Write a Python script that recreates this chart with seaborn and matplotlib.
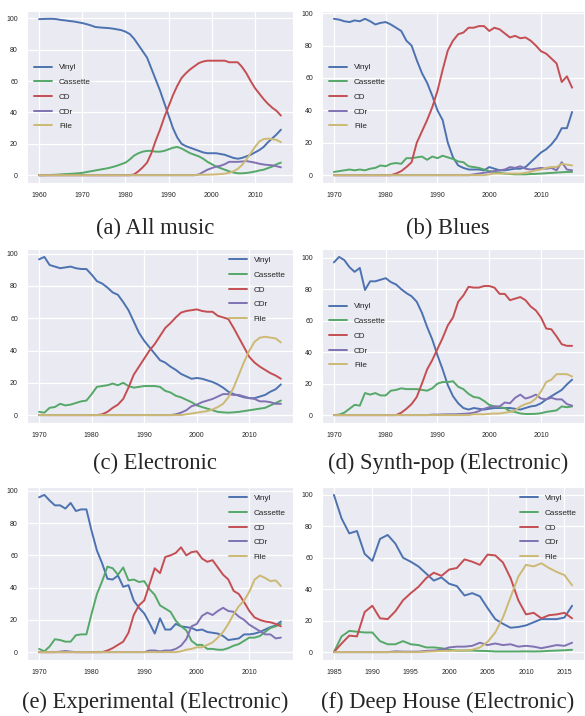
import matplotlib
matplotlib.use('Agg')
import matplotlib.pyplot as plt
import seaborn as sns
import numpy as np

sns.set_style('darkgrid')
plt.rcParams['font.family'] = ['Liberation Sans', 'DejaVu Sans']

formats = ['Vinyl', 'Cassette', 'CD', 'CDr', 'File']
colors = ['#4C72B0', '#55A868', '#C44E52', '#8172B3', '#CCB974']

# (a) All music, 1960-2016
years_a = list(range(1960, 2017))
vinyl_a = [99.5, 99.6, 99.7, 99.7, 99.5, 99, 98.7, 98.3, 98, 97.5, 97, 96.3, 95.5, 94.5, 94.2, 94, 93.8, 93.5, 93, 92.5,
           91.5, 90, 87, 83, 79, 75, 68, 61, 54, 46, 38, 30, 24, 20, 18.5, 17.5, 16.5, 15.5, 14.5, 14,
           14, 14, 13.5, 13, 12, 11, 10.5, 11, 12, 13, 14.5, 16, 18, 21, 23.5, 26, 29]
cassette_a = [0, 0, 0.1, 0.2, 0.3, 0.5, 0.7, 0.8, 1, 1.2, 1.5, 2, 2.5, 3, 3.5, 4, 4.5, 5.2, 6, 7,
              8, 10, 12.5, 14, 15, 15.5, 15.5, 15, 15, 15.5, 16.5, 17.5, 18, 17, 15.5, 14, 13, 12, 10.5, 8.5,
              7, 5.5, 4.5, 3.5, 2.5, 1.7, 1.2, 1.2, 1.4, 1.8, 2.3, 3, 3.5, 4.5, 5.5, 7, 8]
cd_a = [0] * 22 + [0.5, 2.5, 5, 8, 14, 22, 29, 37, 44, 51, 57, 62, 65, 67.5, 69.5, 71.5, 72.5, 73,
                   73, 73, 73, 73, 72, 72, 72, 69, 65, 60, 55.5, 52, 48.5, 45.5, 43, 41, 38]
cdr_a = [0] * 37 + [0.5, 2, 3.5, 4.5, 5.5, 6, 7, 8.5, 8.5, 8.5, 8.7, 9, 8.5, 8, 7.3, 6.8, 6.5, 6.3, 5.7, 5]
file_a = [0] * 37 + [0.3, 0.3, 0.3, 0.4, 0.5, 0.7, 1, 1.5, 2.5, 4, 6.5, 10, 14, 18, 21.5, 23, 23.3, 23, 22.5, 21]

# (b) Blues, 1970-2016
years_b = list(range(1970, 2017))
vinyl_b = [96.5, 96, 95, 94.5, 95.5, 95, 96.5, 95, 93, 94, 94.5, 93, 91, 89, 83, 80, 71, 63, 57, 49,
           40, 34, 20, 11, 6, 4.5, 3.5, 3.5, 3.5, 3, 5, 4, 3, 3, 3.5, 4, 4, 5, 8, 11,
           14, 16, 19, 23, 29, 29, 39]
cassette_b = [2, 2.5, 3, 3.5, 3, 3.5, 3, 4, 4.5, 6, 5.5, 7, 7.5, 7, 10.5, 10.5, 11, 11.5, 9.5, 11.5,
              10.5, 12, 11, 10, 8.5, 8, 5.5, 5, 4.5, 3.5, 2.5, 2, 1.5, 1, 0.7, 0.5, 0.5, 0.5, 0.7, 0.8,
              1, 1.2, 1.4, 1.6, 1.8, 2, 2]
cd_b = [0] * 12 + [1, 2.5, 5, 8, 20, 27, 34, 42, 52, 65, 77, 83, 87, 88, 91, 91, 92, 92,
                   89, 91, 90, 87.5, 85, 86, 84.5, 85, 83, 80, 76.5, 75, 72, 69, 57.5, 61, 54]
cdr_b = [0] * 27 + [0.5, 1, 1.5, 2, 2.5, 3, 3.5, 5, 4.5, 5.5, 4, 3.5, 4, 4.5, 4, 4.5, 3, 8, 3.5, 3]
file_b = [0] * 30 + [0.5, 1, 1, 1, 1, 1, 1, 1.5, 2, 3, 3.5, 4.5, 5, 5, 7, 6.5, 6]

# (c) Electronic, 1970-2016
years_c = list(range(1970, 2017))
vinyl_c = [96.5, 98, 93, 92, 91, 91.5, 92, 91, 90.5, 90.5, 87, 83, 81.5, 79, 76, 74.5, 70, 65, 58, 51,
           46, 42, 38, 34, 32.5, 30, 28, 25.5, 24, 22.5, 23, 22.5, 21.5, 20.5, 19, 17, 14.5, 13, 12, 11,
           10.5, 10.5, 11.5, 12.5, 14.5, 16, 19]
cassette_c = [2, 1.5, 4.5, 5, 7, 6, 6.5, 7.5, 8.5, 9, 13, 17.5, 18, 18.5, 19.5, 18.5, 20, 18, 17, 17.5,
              18, 18, 18, 17.5, 15, 14, 12, 11, 9.5, 8, 6, 5, 4, 3, 2, 1.7, 1.5, 1.7, 2, 2.5,
              3, 3.5, 4, 4.5, 6, 7.5, 9]
cd_c = [0] * 12 + [0.5, 2, 4.5, 6.5, 10, 17, 25, 30, 35, 40, 44, 49, 54, 57, 60.5, 63.5, 64.5, 65,
                   65.5, 64.5, 64, 64, 61.5, 60.5, 59.5, 54, 48, 42, 36, 32.5, 30, 28, 26, 24.5, 22.5]
cdr_c = [0] * 26 + [0.5, 1.5, 3, 5.5, 6.5, 8, 9, 10, 11.5, 13, 13, 12.5, 12.5, 11.5, 10.5, 10, 8.5, 8.5, 8, 7, 7]
file_c = [0] * 28 + [0.5, 1, 1.5, 2, 2.5, 3.5, 5, 7, 11, 17, 25, 33, 40, 45.5, 48, 48.5, 48, 47.5, 45]

# (d) Synth-pop (Electronic), 1970-2016
years_d = list(range(1970, 2017))
vinyl_d = [97, 100.5, 98.5, 94, 91, 93.5, 79.5, 85, 85, 86, 87, 84.5, 83, 80, 77.5, 75.5, 72, 65, 56, 48,
           38, 29, 19, 12, 7.5, 4.5, 3.5, 4.5, 4, 3.5, 4, 4.5, 4.5, 4.5, 4.5, 4, 3.5, 4.5, 5.5, 6,
           7.5, 10, 12, 14, 16, 19.5, 22.5]
cassette_d = [0, 0.3, 1.5, 4, 6.5, 6, 14, 13, 14, 12.5, 12.5, 15.5, 16, 17, 16.5, 16.5, 16.5, 16, 15.5, 17,
              20, 21, 21, 21.5, 18, 16.5, 13.5, 11.5, 11, 9, 6.5, 5.5, 5, 4.5, 2.5, 2, 1, 0.7, 0.7, 0.8,
              1.2, 2, 2.5, 3, 5.5, 5, 5.5]
cd_d = [0] * 13 + [1.5, 4, 7, 11.5, 20, 29, 35, 42, 49, 57, 62, 72, 76, 81.5, 81, 81, 82,
                   82, 81, 77, 77, 73, 74, 75, 73, 69, 66.5, 62, 55, 54.5, 50, 45, 44, 44]
cdr_d = [0] * 19 + [0.3, 0.3, 0.4, 0.5, 0.5, 0.6, 0.8, 1, 1.5, 2.5, 4, 5, 5.5, 5.5, 8, 7.5, 11, 13, 10.5,
                    11.5, 13, 10.5, 10, 11, 10, 10, 7, 6]
file_d = [0] * 27 + [0.5, 0.5, 0.5, 0.8, 1, 1, 1.5, 2, 3, 5.5, 7, 8, 10.5, 15, 21, 22.5, 26, 26, 26, 24.5]

# (e) Experimental (Electronic), 1970-2016
years_e = list(range(1970, 2017))
vinyl_e = [96, 97.5, 94, 91, 91, 89, 92.5, 87.5, 88.5, 88.5, 75, 63, 55, 45.5, 45, 47.5, 40.5, 41.5, 32, 27.5,
           24, 18, 11.5, 21, 14, 14, 17.5, 16, 15.5, 15, 13.5, 14, 12.5, 12, 11.5, 10, 7.5, 8, 8.5, 11,
           11, 11.5, 12.5, 14, 15.5, 16.5, 19]
cassette_e = [2, 0.5, 3.5, 8, 7.5, 6.5, 6.5, 10.5, 11, 11, 24, 36, 44, 53, 52, 48, 52.5, 44.5, 45, 43.5,
              44, 39, 35.5, 29, 27, 25, 19.5, 16, 13.5, 7, 4.5, 4.5, 2, 2, 1.5, 1.5, 2.5, 4, 5, 7,
              9, 9, 10, 12.5, 15, 16, 17.5]
cd_e = [0] * 13 + [1, 2.5, 4.5, 6.5, 12, 23, 29, 32, 42, 52, 49, 59, 60, 61.5, 65, 60, 62,
                   62.5, 58, 56, 57, 52.5, 48, 45, 38, 36, 31, 25.5, 21.5, 20, 19, 18.5, 17.5, 16]
cdr_e = [0, 0, 0, 0, 0.3, 0.7, 0.3] + [0] * 14 + [1, 1, 0.5, 1, 1, 2, 4, 8, 16, 17.5, 22.5, 24.5, 23,
                                                   25.5, 27.5, 25.5, 25, 22, 20, 17, 15, 13, 11, 11, 8.5, 9]
file_e = [0] * 27 + [0.5, 1.5, 2, 3, 3, 4.5, 6, 9, 12.5, 17.5, 23.5, 28.5, 32, 37.5, 45, 47.5, 46, 44, 44.5, 41]

# (f) Deep House (Electronic), 1985-2016
years_f = list(range(1985, 2017))
vinyl_f = [100, 85, 75.5, 77, 62.5, 58, 72, 74.5, 69, 60, 57.5, 54.5, 50, 45.5, 47.5, 43.5, 42, 36, 37.5, 35.5,
           28, 21, 18, 15.5, 16, 17, 19, 21, 21, 21, 22, 29.5]
cassette_f = [0, 10, 13.5, 13, 12.5, 12.5, 7, 5, 5, 7, 5, 4.5, 3, 3, 2.5, 1.5, 1, 1, 1, 0.8,
              0.7, 0.4, 0.4, 0.4, 0.4, 0.5, 0.4, 0.5, 0.8, 1, 1.2, 1.5]
cd_f = [0, 5.5, 10.5, 10, 25.5, 29.5, 21.5, 21, 26, 33, 37.5, 41.5, 47, 50.5, 48.5, 52.5, 53.5, 59, 57.5, 55.5,
        62, 61.5, 57, 47, 33, 24, 25, 21.5, 23.5, 24, 25, 21.5]
cdr_f = [0] * 8 + [0.5, 0.3, 0.3, 0.3, 0.8, 1, 1.5, 3, 3.5, 3.5, 4, 6, 4.5, 5.5, 4.5, 5, 3.5, 4, 3.5, 2.5,
                   3.5, 4.5, 4, 6]
file_f = [0] * 12 + [0.3, 0.5, 0.8, 0.8, 1, 1, 1.5, 3, 6.5, 12.5, 22, 35, 48, 55.5, 54.5, 56.5, 53.5, 51, 49, 42.5]

panels = [
    ('(a) All music', years_a, [vinyl_a, cassette_a, cd_a, cdr_a, file_a], 'center left', [1960, 1970, 1980, 1990, 2000, 2010]),
    ('(b) Blues', years_b, [vinyl_b, cassette_b, cd_b, cdr_b, file_b], 'center left', [1970, 1980, 1990, 2000, 2010]),
    ('(c) Electronic', years_c, [vinyl_c, cassette_c, cd_c, cdr_c, file_c], 'upper right', [1970, 1980, 1990, 2000, 2010]),
    ('(d) Synth-pop (Electronic)', years_d, [vinyl_d, cassette_d, cd_d, cdr_d, file_d], 'center left', [1970, 1980, 1990, 2000, 2010]),
    ('(e) Experimental (Electronic)', years_e, [vinyl_e, cassette_e, cd_e, cdr_e, file_e], 'upper right', [1970, 1980, 1990, 2000, 2010]),
    ('(f) Deep House (Electronic)', years_f, [vinyl_f, cassette_f, cd_f, cdr_f, file_f], 'upper right', [1985, 1990, 1995, 2000, 2005, 2010, 2015]),
]

W, H = 585, 716
fig = plt.figure(figsize=(W / 100, H / 100), dpi=100)

# pixel boxes (left, top, right, bottom) and caption y
boxes = [(27, 11, 293, 183), (322, 11, 584, 183),
         (27, 249, 293, 423), (322, 249, 584, 423),
         (27, 487, 293, 660), (322, 487, 584, 660)]
cap_y = [228, 228, 463, 463, 702, 702]

for i, (title, years, series, loc, xt) in enumerate(panels):
    l, t, r, b = boxes[i]
    ax = fig.add_axes([l / W, 1 - b / H, (r - l) / W, (b - t) / H])
    for name, vals, c in zip(formats, series, colors):
        sns.lineplot(x=years, y=vals, label=name, color=c, linewidth=1.4, ax=ax)
    ax.set_yticks([0, 20, 40, 60, 80, 100])
    ax.set_xticks(xt)
    ax.tick_params(labelsize=5, pad=3, colors='.15')
    ax.grid(color='white', linewidth=0.9)
    ax.legend(loc=loc, frameon=False, fontsize=5.9, labelspacing=0.85, handlelength=2.2)
    fig.text(((l + r) / 2 - 5) / W, 1 - cap_y[i] / H, title, ha='center', va='center',
             family='Liberation Serif', fontsize=16.3)

fig.savefig('out.png', dpi=100)
